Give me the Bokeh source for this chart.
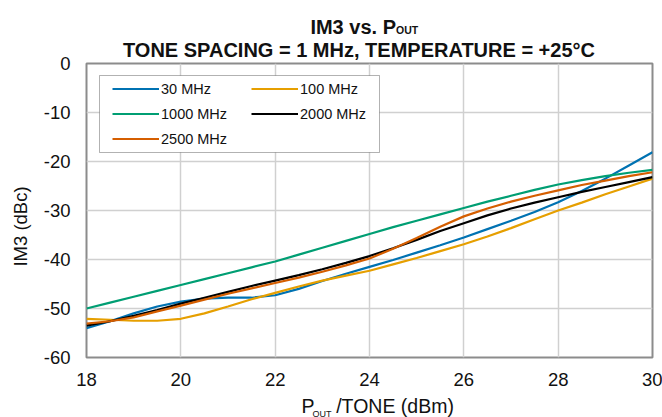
import math
from bokeh.plotting import figure
from bokeh.models import FixedTicker, Label, Legend, LegendItem, BoxAnnotation, Range1d
from bokeh.embed import file_html
from bokeh.resources import INLINE

# ---------------- data ----------------
pout_dbm = [18, 18.5, 19, 19.5, 20, 20.5, 21, 21.5, 22, 22.5, 23, 23.5, 24,
            24.5, 25, 25.5, 26, 26.5, 27, 27.5, 28, 28.5, 29, 29.5, 30]

im3_30mhz = [-54.0, -52.6, -51.0, -49.6, -48.6, -48.0, -47.8, -47.8, -47.3, -46.0,
             -44.4, -42.9, -41.5, -40.1, -38.6, -37.1, -35.5, -33.8, -32.1, -30.3,
             -28.3, -26.0, -23.5, -20.8, -18.1]
im3_100mhz = [-52.1, -52.3, -52.5, -52.5, -52.1, -51.0, -49.6, -48.1, -46.8, -45.5,
              -44.3, -43.3, -42.3, -41.0, -39.7, -38.3, -36.9, -35.3, -33.6, -31.8,
              -30.0, -28.4, -26.7, -25.1, -23.5]
im3_1000mhz = [-50.0, -48.8, -47.6, -46.4, -45.2, -44.0, -42.8, -41.6, -40.4, -39.0,
               -37.6, -36.2, -34.8, -33.4, -32.1, -30.8, -29.5, -28.2, -27.0, -25.8,
               -24.7, -23.8, -23.0, -22.3, -21.7]
im3_2000mhz = [-53.5, -52.6, -51.5, -50.3, -49.0, -47.8, -46.6, -45.4, -44.3, -43.2,
               -42.0, -40.7, -39.3, -37.7, -36.0, -34.2, -32.6, -31.0, -29.6, -28.4,
               -27.3, -26.2, -25.2, -24.2, -23.2]
im3_2500mhz = [-53.1, -52.6, -51.8, -50.6, -49.4, -48.2, -47.0, -45.9, -44.8, -43.7,
               -42.5, -41.2, -39.8, -37.8, -35.6, -33.3, -31.2, -29.6, -28.2, -27.0,
               -25.9, -24.8, -23.9, -23.0, -22.2]

series_labels = ["30 MHz", "100 MHz", "1000 MHz", "2000 MHz", "2500 MHz"]

x_ticks = [18, 20, 22, 24, 26, 28, 30]
x_tick_labels = ["18", "20", "22", "24", "26", "28", "30"]
y_ticks = [-60, -50, -40, -30, -20, -10, 0]
y_tick_labels = ["-60", "-50", "-40", "-30", "-20", "-10", "0"]

title_line1 = "IM3 vs. P"
title_line1_sub = "OUT"
title_line2 = "TONE SPACING = 1 MHz, TEMPERATURE = +25°C"
x_title = "P\u00a0\u00a0\u00a0\u00a0/TONE (dBm)"
x_title_sub = "OUT"
y_title = "IM3 (dBc)"

# ---------------- figure ----------------
FONT = "Liberation Sans"
colors = ["#0072B2", "#E69F00", "#009E73", "#000000", "#D55E00"]

p = figure(width=662, height=417, x_range=Range1d(18, 30), y_range=Range1d(-60, 0),
           output_backend="svg", toolbar_location=None,
           min_border_left=85, min_border_right=10, min_border_top=63, min_border_bottom=60)
p.background_fill_color = "white"
p.border_fill_color = "white"
p.outline_line_color = "#8c8c8c"
p.outline_line_width = 2

p.xaxis.ticker = FixedTicker(ticks=x_ticks)
p.yaxis.ticker = FixedTicker(ticks=y_ticks)
p.xaxis.major_label_overrides = {t: l for t, l in zip(x_ticks, x_tick_labels)}
p.yaxis.major_label_overrides = {t: l for t, l in zip(y_ticks, y_tick_labels)}
for ax in (p.xaxis, p.yaxis):
    ax.axis_line_color = None
    ax.major_tick_line_color = None
    ax.minor_tick_line_color = None
    ax.major_tick_out = 0
    ax.major_tick_in = 0
    ax.minor_tick_out = 0
    ax.minor_tick_in = 0
    ax.major_label_text_font = FONT
    ax.major_label_text_font_size = "18.5px"
    ax.major_label_text_color = "#111111"
p.xaxis.major_label_standoff = 15
p.yaxis.major_label_standoff = 16

p.xgrid.grid_line_color = "#d0d0d0"
p.ygrid.grid_line_color = "#d0d0d0"
p.xgrid.grid_line_width = 1.5
p.ygrid.grid_line_width = 1.5

# legend box (drawn first so that it sits beneath the legend entries)
box = BoxAnnotation(left=13, right=293, top=282, bottom=205,
                    left_units="screen", right_units="screen",
                    top_units="screen", bottom_units="screen",
                    fill_color="white", fill_alpha=1.0,
                    line_color="black", line_width=1, level="overlay")
p.add_layout(box)

all_series = [im3_30mhz, im3_100mhz, im3_1000mhz, im3_2000mhz, im3_2500mhz]
renderers = []
for vals, c in zip(all_series, colors):
    r = p.line(pout_dbm, vals, line_color=c, line_width=2.2)
    renderers.append(r)

legend = Legend(items=[LegendItem(label=l, renderers=[r]) for l, r in zip(series_labels, renderers)],
                orientation="horizontal", ncols=2, location=(26, 210),
                glyph_width=47, glyph_height=17, label_height=17, label_width=82,
                label_standoff=2, spacing=8, padding=0, margin=0,
                border_line_color=None, background_fill_alpha=0,
                label_text_font=FONT, label_text_font_size="14.5px", label_text_color="#111111")
p.add_layout(legend)

def lab(text, x, y, size, place, bold=False, align="left", angle=0.0):
    L = Label(x=x, y=y, x_units="screen", y_units="screen", text=text,
              text_font=FONT, text_font_size=size, text_font_style="bold" if bold else "normal",
              text_align=align, text_baseline="alphabetic", angle=angle, text_color="#111111")
    p.add_layout(L, place)

# title (side panel above the plot; positions relative to each label's panel)
lab(title_line2, 272.5, 13.7, "20px", "above", bold=True, align="center")
lab(title_line1, 309.5, 14.3, "20px", "above", bold=True, align="right")
lab(title_line1_sub, 309.5, -10.3, "10.5px", "above", bold=True, align="left")

# x axis title
lab(x_title, 215, 4.3, "19.5px", "below", align="left")

# y axis title and the x title's subscript (left panel)
lab(y_title, 1, 131, "18.5px", "left", align="center", angle=math.pi / 2)
lab(x_title_sub, 312, -56, "9px", "left", align="left")

open("out.html", "w").write(file_html(p, INLINE))
